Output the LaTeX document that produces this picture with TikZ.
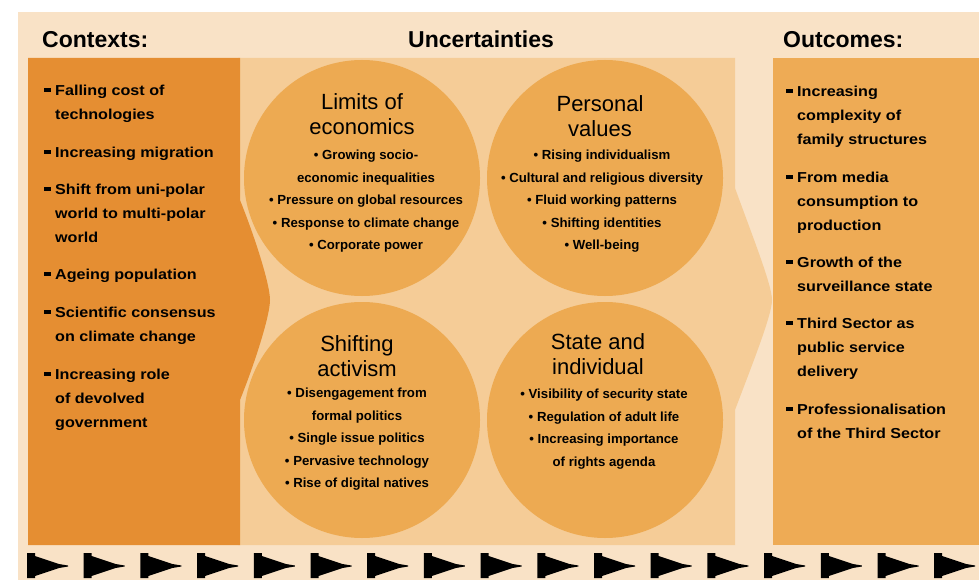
\documentclass[tikz,border=0pt]{standalone}
\usepackage{fontspec}
\setmainfont{Liberation Sans}
\newfontfamily\listfont[FakeStretch=1.12]{Liberation Sans}

\definecolor{peach}{HTML}{F9E2C6}
\definecolor{ctxorange}{HTML}{E58E32}
\definecolor{uncpale}{HTML}{F5CC97}
\definecolor{circorange}{HTML}{EDAA52}
\definecolor{outorange}{HTML}{EEAB55}

% square bullet and hanging indent for the side lists
\newcommand{\sqb}{\makebox[11pt][l]{\rule[0.22em]{0.45em}{0.3em}}}
\newcommand{\ind}{\hspace*{11pt}}

\tikzset{
  header/.style={font=\bfseries\fontsize{23}{23}\selectfont, inner sep=0pt},
  listtxt/.style={font=\listfont\bfseries\fontsize{14.4}{24}\selectfont, align=left, anchor=north west, inner sep=0pt},
  circtitle/.style={font=\fontsize{22}{25}\selectfont, align=center, anchor=north, inner sep=0pt},
  circlist/.style={font=\bfseries\fontsize{13.2}{22.5}\selectfont, align=center, anchor=north, inner sep=0pt},
}

\begin{document}
\begin{tikzpicture}[x=1pt, y=-1pt]
		\useasboundingbox (0,0) rectangle (979,580);
		
		% Latar belakang
		\fill[peach] (18,12) rectangle (979,580);
		
		% Panel tengah (uncertainties) dengan ujung panah
		\fill[uncpale] (238,58) -- (735,58) -- (735,188)
		  .. controls (752,235) and (772,285) .. (772,300)
		  .. controls (772,315) and (752,365) .. (735,410)
		  -- (735,545) -- (238,545) -- cycle;
		
		% Lingkaran
		\fill[circorange] (362,178) circle (118);
		\fill[circorange] (605,178) circle (118);
		\fill[circorange] (362,420) circle (118);
		\fill[circorange] (605,420) circle (118);
		
		% Panel kiri (contexts) dengan ujung panah
		\fill[ctxorange] (28,58) -- (240,58) -- (240,200)
		  .. controls (256,240) and (270,285) .. (270,300)
		  .. controls (270,315) and (256,360) .. (240,400)
		  -- (240,545) -- (28,545) -- cycle;
		
		% Panel kanan (outcomes)
		\fill[outorange] (773,58) rectangle (979,545);
		
		% Judul kolom
		\node[header, anchor=base west] (hctx) at (42,48) {Contexts:};
		\node[header, anchor=base] (hunc) at (481,48) {Uncertainties};
		\node[header, anchor=base west] (hout) at (783,48) {Outcomes:};
		
		% Daftar contexts
		\node[listtxt] (ctx1) at (44,85) {\sqb Falling cost of\\\ind technologies};
		\node[listtxt] (ctx2) at (44,147) {\sqb Increasing migration};
		\node[listtxt] (ctx3) at (44,184) {\sqb Shift from uni-polar\\\ind world to multi-polar\\\ind world};
		\node[listtxt] (ctx4) at (44,269) {\sqb Ageing population};
		\node[listtxt] (ctx5) at (44,307) {\sqb Scientific consensus\\\ind on climate change};
		\node[listtxt] (ctx6) at (44,369) {\sqb Increasing role\\\ind of devolved\\\ind government};
		
		% Daftar outcomes
		\node[listtxt] (out1) at (786,86) {\sqb Increasing\\\ind complexity of\\\ind family structures};
		\node[listtxt] (out2) at (786,172) {\sqb From media\\\ind consumption to\\\ind production};
		\node[listtxt] (out3) at (786,257) {\sqb Growth of the\\\ind surveillance state};
		\node[listtxt] (out4) at (786,318) {\sqb Third Sector as\\\ind public service\\\ind delivery};
		\node[listtxt] (out5) at (786,404) {\sqb Professionalisation\\\ind of the Third Sector};
		
		% Isi lingkaran
		\node[circtitle] (limTitle) at (362,93) {Limits of\\economics};
		\node[circlist] (limList) at (366,150) {\textbullet\ Growing socio-\\economic inequalities\\\textbullet\ Pressure on global resources\\\textbullet\ Response to climate change\\\textbullet\ Corporate power};
		
		\node[circtitle] (perTitle) at (600,95) {Personal\\values};
		\node[circlist] (perList) at (602,150) {\textbullet\ Rising individualism\\\textbullet\ Cultural and religious diversity\\\textbullet\ Fluid working patterns\\\textbullet\ Shifting identities\\\textbullet\ Well-being};
		
		\node[circtitle] (actTitle) at (357,335) {Shifting\\activism};
		\node[circlist] (actList) at (357,388) {\textbullet\ Disengagement from\\formal politics\\\textbullet\ Single issue politics\\\textbullet\ Pervasive technology\\\textbullet\ Rise of digital natives};
		
		\node[circtitle] (staTitle) at (598,333) {State and\\individual};
		\node[circlist] (staList) at (604,389) {\textbullet\ Visibility of security state\\\textbullet\ Regulation of adult life\\\textbullet\ Increasing importance\\of rights agenda};
		
		% Deretan panah di bawah
		\foreach \i in {0,...,16} {
		  \fill[black] ({27+56.7*\i},553) -- ++(8,0) -- ++(0,3) -- ++(24,8) -- ++(9,1.5)
		    -- ++(0,1) -- ++(-9,1.5) -- ++(-24,8) -- ++(0,2) -- ++(-8,0) -- cycle;
		}
		
	\end{tikzpicture}
\end{document}
